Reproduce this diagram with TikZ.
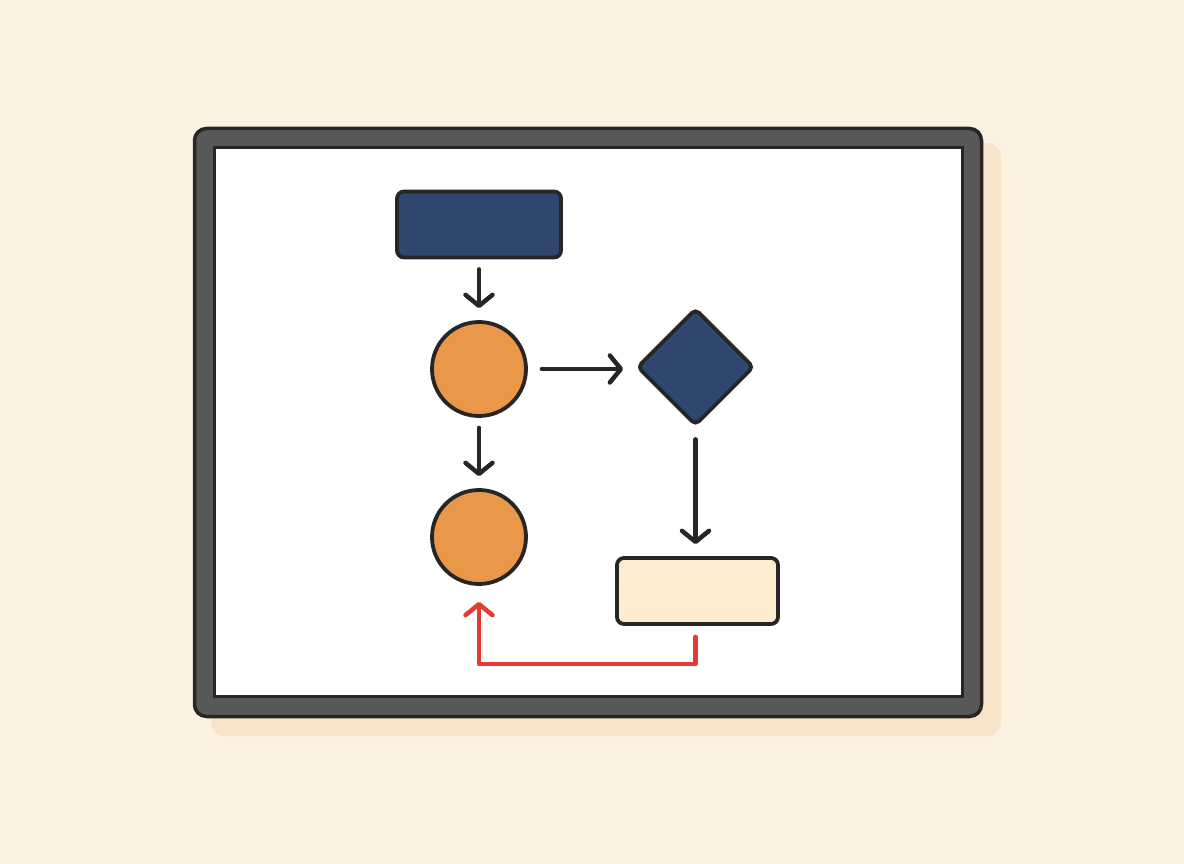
\documentclass[tikz,border=0pt]{standalone}
\usepackage{tikz}
\usetikzlibrary{arrows.meta}
\usetikzlibrary{shapes.geometric}
\definecolor{paper}{RGB}{253,241,225}
\definecolor{dropshadow}{RGB}{248,228,200}
\definecolor{framegray}{RGB}{88,88,88}
\definecolor{frameedge}{RGB}{38,38,38}
\definecolor{navy}{RGB}{48,70,110}
\definecolor{tangerine}{RGB}{232,152,72}
\definecolor{cream}{RGB}{253,236,205}
\definecolor{loopred}{RGB}{228,58,52}

\begin{document}
\begin{tikzpicture}[x=1pt,y=-1pt,
	block/.style={draw=frameedge, line width=3.8pt, rounded corners=7pt, minimum width=164pt, minimum height=66pt, inner sep=0pt},
	disc/.style={draw=frameedge, line width=3.8pt, fill=tangerine, shape=circle, minimum size=94pt, inner sep=0pt},
	choice/.style={draw=frameedge, line width=3.8pt, fill=navy, shape=diamond, minimum width=117pt, minimum height=117pt, rounded corners=5pt, inner sep=0pt},
	flow/.style={draw=frameedge, line width=4.5pt, line cap=round, line join=round, -{Straight Barb[round, length=11pt, width=27pt]}},
	back/.style={flow, draw=loopred}]
	\useasboundingbox (0,0) rectangle (1184,864);
	\fill [paper] (0,0) rectangle (1184,864);
	
	% shadow and frame
	\fill [dropshadow, rounded corners=14pt] (211,143) rectangle (1001,736);
	\draw [fill=framegray, draw=frameedge, line width=3.5pt, rounded corners=12pt] (194.5,128.5) rectangle (981.5,716.5);
	\draw [fill=white, draw=frameedge, line width=3pt] (214,148) rectangle (962,696);
	
	\node [block, fill=navy] (start) at (479,224.5) {};
	\node [disc] (c1) at (479,369) {};
	\node [disc] (c2) at (479,537) {};
	\node [choice] (test) at (695.5,367) {};
	\node [block, fill=cream, minimum width=161pt] (out) at (697.5,591) {};
	
	\draw [flow, shorten <=10pt, shorten >=12pt] (start) to (c1);
	\draw [flow, shorten <=10pt, shorten >=12pt] (c1) to (c2);
	\draw [flow, shorten <=14pt, shorten >=12pt] (c1.east) to (c1.east -| test.west);
	\draw [flow, shorten <=12pt, shorten >=12pt] (test.south) to (test.south |- out.north);
	\draw [back, shorten <=11pt, shorten >=16pt] (test.south |- out.south) -- ++(0,38) -| (c2.south);
\end{tikzpicture}
\end{document}
